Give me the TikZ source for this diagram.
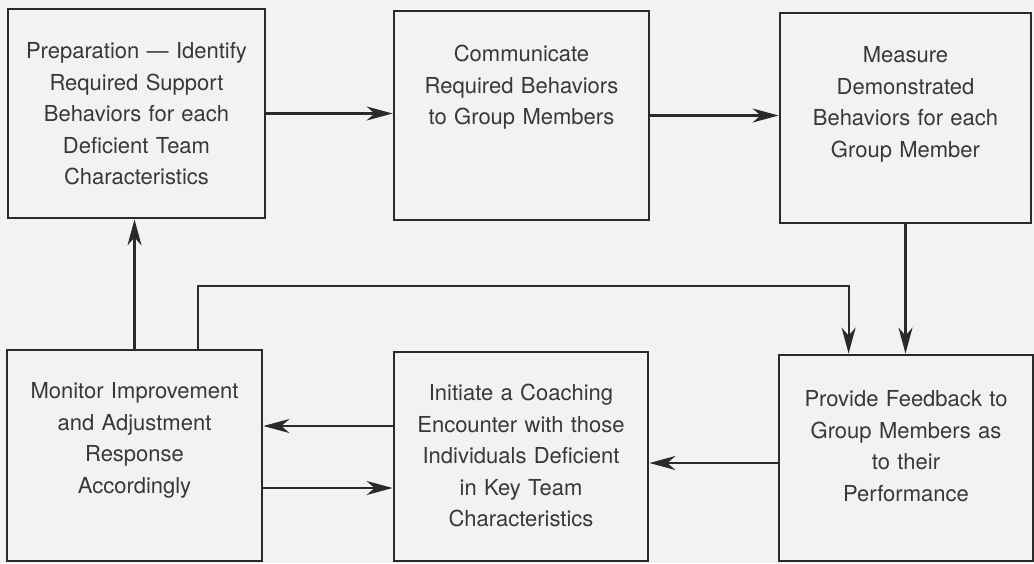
\documentclass[tikz,border=0pt]{standalone}
\usepackage{fontspec}
\setmainfont{TeX Gyre Heros}
\usetikzlibrary{arrows.meta}
\definecolor{bg}{HTML}{F2F2F2}
\definecolor{ink}{HTML}{2A2A2A}
\definecolor{txt}{HTML}{383838}
\tikzset{
  box/.style={draw=ink, line width=2.8pt, rectangle, inner sep=0pt, fill=bg},
  lbl/.style={anchor=base, inner sep=0pt, text width=250pt, align=center,
    text=txt, font=\fontsize{22}{31.5}\selectfont},
  arr/.style={draw=ink, line width=2.2pt,
    -{Stealth[length=26pt, width=14pt, inset=8pt]}},
}
\begin{document}
\begin{tikzpicture}[x=1pt, y=-1pt]
\useasboundingbox (0,0) rectangle (1034,563);
\fill[bg] (0,0) rectangle (1034,563);
% boxes
\node[box, minimum width=257pt, minimum height=209pt] (A) at (136.5,113.5) {};
\node[box, minimum width=255pt, minimum height=209pt] (B) at (521.5,115.5) {};
\node[box, minimum width=251pt, minimum height=210pt] (C) at (905.5,118) {};
\node[box, minimum width=255pt, minimum height=211pt] (D) at (134.5,455.5) {};
\node[box, minimum width=254pt, minimum height=209pt] (E) at (521,456.5) {};
\node[box, minimum width=254pt, minimum height=206pt] (F) at (906,458) {};
% texts
\node[lbl] (tA) at ([yshift=-51pt]A.north) {Preparation — Identify\\Required Support\\Behaviors for each\\Deficient Team\\Characteristics};
\node[lbl] (tB) at ([yshift=-52pt]B.north) {Communicate\\Required Behaviors\\to Group Members};
\node[lbl] (tC) at ([yshift=-51pt]C.north) {Measure\\Demonstrated\\Behaviors for each\\Group Member};
\node[lbl] (tD) at ([yshift=-50pt]D.north) {Monitor Improvement\\and Adjustment\\Response\\Accordingly};
\node[lbl] (tE) at ([yshift=-50pt]E.north) {Initiate a Coaching\\Encounter with those\\Individuals Deficient\\in Key Team\\Characteristics};
\node[lbl] (tF) at ([yshift=-53pt]F.north) {Provide Feedback to\\Group Members as\\to their\\Performance};
% connectors
\draw[arr] (A.east) -- (A.east -| B.west);
\draw[arr] (B.east) -- (B.east -| C.west);
\draw[arr] (C.south) -- (C.south |- F.north);
\draw[arr] (D.north) -- (D.north |- A.south);
\draw[arr] ([xshift=192pt]D.north west) -- ++(0,-63) -| ([xshift=71pt]F.north west);
\draw[arr] ([yshift=30.5pt]E.west) -- ([yshift=30.5pt]E.west -| D.east);
\draw[arr] ([yshift=-32.5pt]D.east) -- ([yshift=-32.5pt]D.east -| E.west);
\draw[arr] ([yshift=-5pt]F.west) -- ([yshift=-5pt]F.west -| E.east);
\end{tikzpicture}
\end{document}
